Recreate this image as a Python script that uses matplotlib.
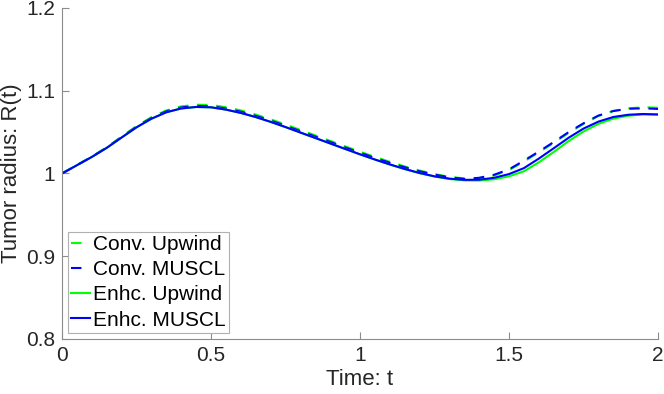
import matplotlib
matplotlib.use("Agg")
import matplotlib.pyplot as plt
from matplotlib.ticker import FormatStrFormatter

plt.rcParams['font.family'] = ['Liberation Sans', 'DejaVu Sans']

# time samples (step 0.05)
t = [i * 0.05 for i in range(41)]

# values
enhc_muscl = [1.0000, 1.0100, 1.0200, 1.0310, 1.0435, 1.0558, 1.0662, 1.0740, 1.0786, 1.0804,
              1.0800, 1.0772, 1.0732, 1.0682, 1.0624, 1.0561, 1.0495, 1.0429, 1.0363, 1.0297,
              1.0232, 1.0169, 1.0110, 1.0055, 1.0006, 0.9966, 0.9938, 0.9923, 0.9925, 0.9948,
              0.9993, 1.0065, 1.0180, 1.0305, 1.0432, 1.0543, 1.0627, 1.0683, 1.0710, 1.0719,
              1.0713]
enhc_upwind = [1.0000, 1.0100, 1.0200, 1.0310, 1.0435, 1.0558, 1.0662, 1.0740, 1.0786, 1.0804,
               1.0800, 1.0772, 1.0732, 1.0682, 1.0624, 1.0561, 1.0495, 1.0429, 1.0363, 1.0297,
               1.0231, 1.0168, 1.0108, 1.0053, 1.0004, 0.9963, 0.9933, 0.9917, 0.9915, 0.9930,
               0.9966, 1.0027, 1.0135, 1.0260, 1.0392, 1.0508, 1.0600, 1.0663, 1.0698, 1.0714,
               1.0713]
conv_muscl = [1.0000, 1.0101, 1.0202, 1.0313, 1.0440, 1.0565, 1.0671, 1.0751, 1.0798, 1.0817,
              1.0813, 1.0786, 1.0747, 1.0697, 1.0640, 1.0577, 1.0512, 1.0446, 1.0381, 1.0315,
              1.0251, 1.0188, 1.0130, 1.0075, 1.0027, 0.9986, 0.9954, 0.9935, 0.9948, 0.9985,
              1.0050, 1.0155, 1.0265, 1.0380, 1.0500, 1.0607, 1.0700, 1.0755, 1.0782, 1.0788,
              1.0780]
conv_upwind = [1.0000, 1.0102, 1.0204, 1.0317, 1.0446, 1.0572, 1.0680, 1.0762, 1.0811, 1.0831,
               1.0828, 1.0801, 1.0762, 1.0712, 1.0655, 1.0592, 1.0526, 1.0460, 1.0394, 1.0328,
               1.0263, 1.0200, 1.0141, 1.0085, 1.0035, 0.9993, 0.9960, 0.9940, 0.9945, 0.9976,
               1.0040, 1.0145, 1.0255, 1.0370, 1.0490, 1.0598, 1.0695, 1.0756, 1.0788, 1.0800,
               1.0795]

xticks = [0, 0.5, 1, 1.5, 2]
yticks = [0.8, 0.9, 1.0, 1.1, 1.2]

fig = plt.figure(figsize=(6.64, 3.94), dpi=100)
ax = fig.add_axes([0.0934, 0.1396, 0.8976, 0.8401])

dash = (5, 4.2)
ax.plot(t, conv_upwind, color=(0, 1, 0), lw=1.5, dashes=dash, label='Conv. Upwind')
ax.plot(t, conv_muscl, color=(0, 0, 1), lw=1.5, dashes=dash, label='Conv. MUSCL')
ax.plot(t, enhc_upwind, color=(0, 1, 0), lw=1.5, label='Enhc. Upwind')
ax.plot(t, enhc_muscl, color=(0, 0, 1), lw=1.5, label='Enhc. MUSCL')

ax.set_xlim(0, 2)
ax.set_ylim(0.8, 1.2)
ax.set_xticks(xticks)
ax.set_yticks(yticks)
ax.xaxis.set_major_formatter(FormatStrFormatter('%g'))
ax.yaxis.set_major_formatter(FormatStrFormatter('%g'))

for s in ['top', 'right']:
    ax.spines[s].set_visible(False)
for s in ['left', 'bottom']:
    ax.spines[s].set_color('#8c8c8c')
    ax.spines[s].set_linewidth(0.8)
ax.tick_params(direction='in', length=5, width=0.8, color='#8c8c8c',
               labelsize=15, labelcolor='#262626')
ax.tick_params(axis='y', pad=5)
ax.tick_params(axis='x', pad=5)

ax.set_xlabel('Time: t', fontsize=16, color='#262626', labelpad=3)
ax.set_ylabel('Tumor radius: R(t)', fontsize=16, color='#262626', labelpad=3)

leg = ax.legend(loc='lower left', fontsize=15, handlelength=0.9, handletextpad=0.15,
                labelspacing=0.3, borderpad=0.15, borderaxespad=0.3,
                fancybox=False, framealpha=1, edgecolor='#b0b0b0')
leg.get_frame().set_linewidth(0.8)

fig.savefig('out.png', dpi=100)
